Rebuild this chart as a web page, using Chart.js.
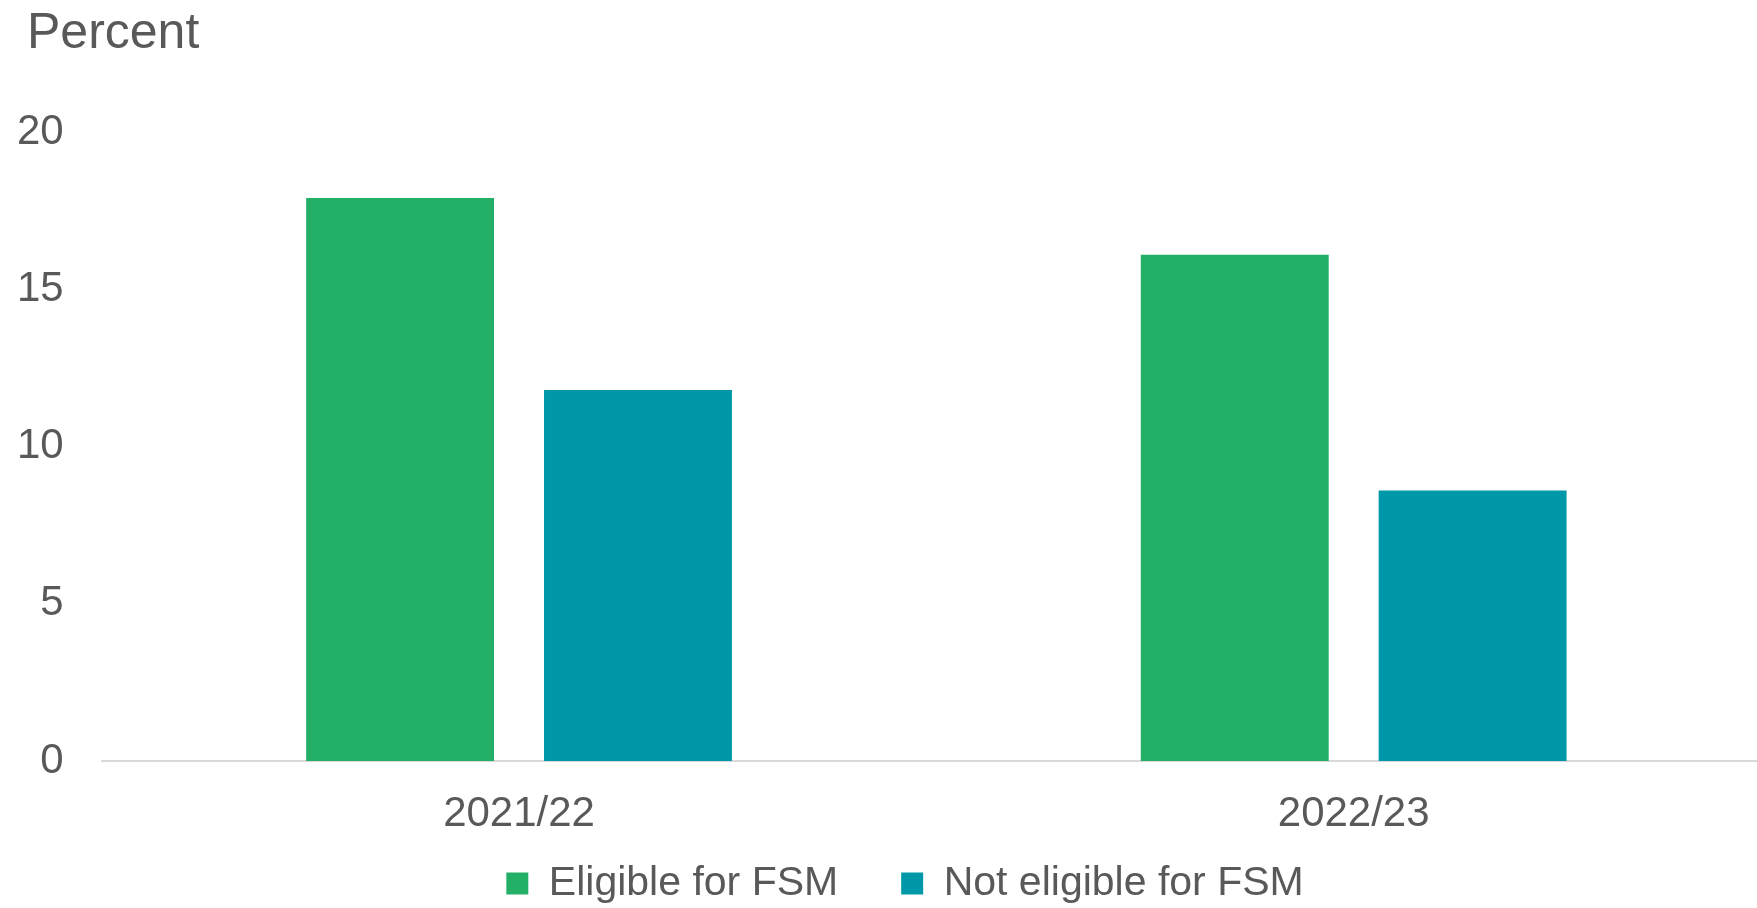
<!DOCTYPE html>
<html>
<head>
<meta charset="utf-8">
<script src="https://cdn.jsdelivr.net/npm/chart.js@4"></script>
<style>
  html, body { margin: 0; padding: 0; background: #fff; overflow: hidden; }
  /* the plot runs slightly past the right edge of the window, as in the original */
  #wrap { width: 1771px; height: 908px; }
</style>
</head>
<body>
<div id="wrap"><canvas id="myChart"></canvas></div>
<script>
var years = ['2021/22', '2022/23'];
var eligible = [17.9, 16.1];
var notEligible = [11.8, 8.6];
var yTicks = [0, 5, 10, 15, 20];

var textColor = '#595959';
var fontFamily = '"Liberation Sans", Arial, sans-serif';

// "Percent" label in the top-left corner
var unitLabel = {
  id: 'unitLabel',
  afterDraw: function(chart) {
    var c = chart.ctx;
    c.save();
    c.fillStyle = textColor;
    c.font = '50px ' + fontFamily;
    c.textBaseline = 'alphabetic';
    c.textAlign = 'left';
    c.fillText('Percent', 27, 48);
    c.restore();
  }
};

var ctx = document.getElementById('myChart').getContext('2d');
var myChart = new Chart(ctx, {
  type: 'bar',
  data: {
    labels: years,
    datasets: [{
        label: 'Eligible for FSM',
        data: eligible,
        backgroundColor: '#23B066',
        categoryPercentage: 0.57,
        barPercentage: 0.79
      }, {
        label: 'Not eligible for FSM',
        data: notEligible,
        backgroundColor: '#0098A8',
        categoryPercentage: 0.57,
        barPercentage: 0.79
      }
    ]
  },
  plugins: [unitLabel],
  options: {
    responsive: true,
    maintainAspectRatio: false,
    animation: false,
    layout: {
      padding: { top: 132, left: 39, right: 0, bottom: -6 }
    },
    plugins: {
      tooltip: { enabled: false },
      legend: {
        position: 'bottom',
        labels: {
          color: textColor,
          font: { family: fontFamily, size: 41 },
          boxWidth: 22,
          boxHeight: 22,
          padding: 63
        }
      }
    },
    scales: {
      x: {
        grid: { display: false, drawTicks: false },
        border: { display: true, color: '#d9d9d9', width: 2 },
        ticks: {
          color: textColor,
          font: { family: fontFamily, size: 42 },
          padding: 28
        },
        afterFit: function(axis) {
          // keep the axis box short so the legend sits close; labels drawn unclipped
          axis.height = 39;
          axis._computeLabelArea = function() {};
        }
      },
      y: {
        min: yTicks[0],
        max: yTicks[yTicks.length - 1],
        grid: { display: false, drawTicks: false },
        border: { display: false },
        ticks: {
          stepSize: yTicks[1] - yTicks[0],
          color: textColor,
          font: { family: fontFamily, size: 42 },
          padding: 38
        },
        afterFit: function(axis) {
          // chart.js counts tick padding on both sides of the labels;
          // also let the labels hang 22px into the left padding (unclipped)
          axis.width -= axis.options.ticks.padding + 22;
          axis._computeLabelArea = function() {};
        }
      }
    }
  }
});
</script>
</body>
</html>
